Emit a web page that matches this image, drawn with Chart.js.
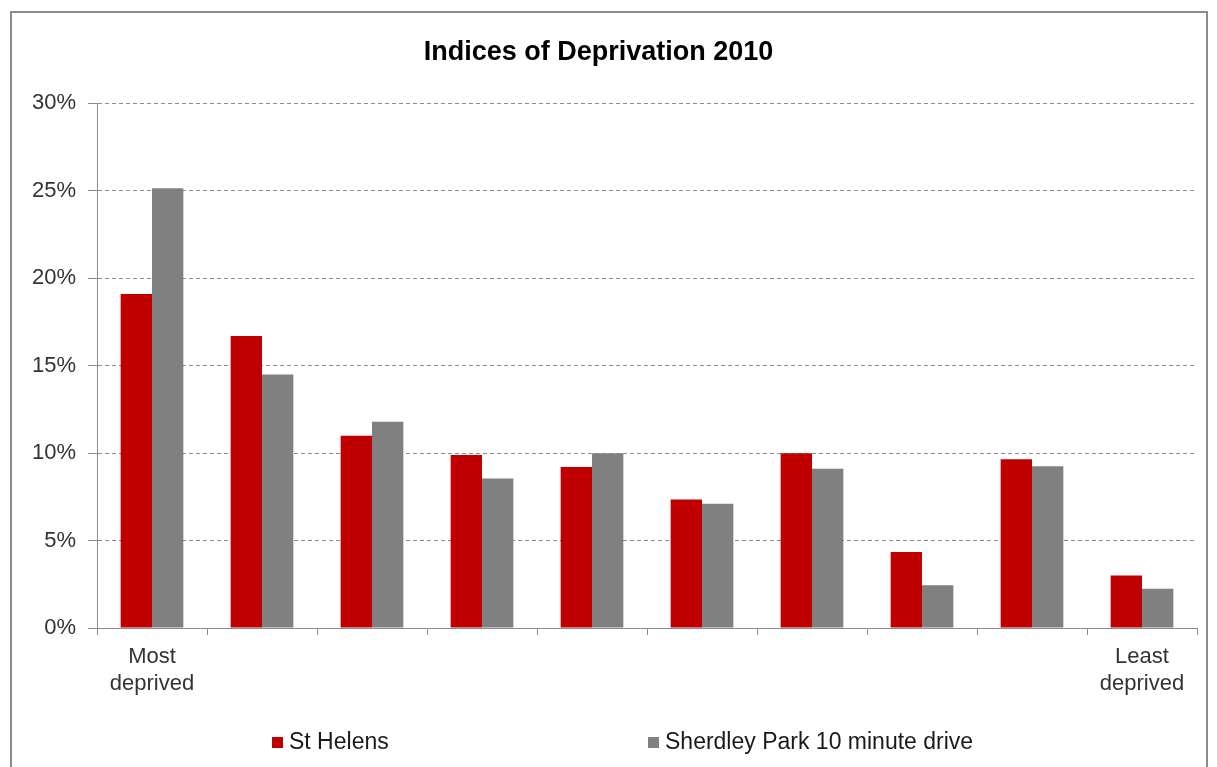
<!DOCTYPE html>
<html>
<head>
<meta charset="utf-8">
<script src="https://cdn.jsdelivr.net/npm/chart.js@4.4.1/dist/chart.umd.min.js"></script>
<style>
html, body { margin: 0; padding: 0; background: #fff; overflow: hidden; }
#wrap { position: absolute; left: 0; top: 0; width: 1217px; height: 767px; }
</style>
</head>
<body>
<div id="wrap"><canvas id="barChart" width="1217" height="767"></canvas></div>
<script>
// categories (deciles), only ends are labelled
var categories = [['Most', 'deprived'], '', '', '', '', '', '', '', '', ['Least', 'deprived']];
var stHelens = [19.1, 16.7, 11.0, 9.9, 9.2, 7.35, 10.0, 4.35, 9.65, 3.0];
var sherdley = [25.15, 14.5, 11.8, 8.55, 10.0, 7.1, 9.1, 2.45, 9.25, 2.25];
var seriesNames = ['St Helens', 'Sherdley Park 10 minute drive'];
var seriesColors = ['#c00000', '#808080'];

var FONT = '"Liberation Sans", Arial, sans-serif';

// frame + legend drawn by hand, Excel style
var framePlugin = {
	id: 'frame',
	beforeDraw: function(chart) {
		var c = chart.ctx;
		c.save();
		c.strokeStyle = '#8c8c8c';
		c.lineWidth = 2;
		c.strokeRect(11, 12, 1196, 800);
		c.restore();
	},
	afterDraw: function(chart) {
		var c = chart.ctx;
		var xs = [272, 648];
		c.save();
		c.font = '23px ' + FONT;
		c.textBaseline = 'middle';
		for (var i = 0; i < seriesNames.length; i++) {
			c.fillStyle = seriesColors[i];
			c.fillRect(xs[i], 737, 11, 11);
			c.fillStyle = '#1a1a1a';
			c.fillText(seriesNames[i], xs[i] + 17, 743);
		}
		c.restore();
	}
};

var ctx = document.getElementById('barChart').getContext('2d');
new Chart(ctx, {
	type: 'bar',
	data: {
		labels: categories,
		datasets: [
			{ label: seriesNames[0], data: stHelens, backgroundColor: seriesColors[0] },
			{ label: seriesNames[1], data: sherdley, backgroundColor: seriesColors[1] }
		]
	},
	options: {
		responsive: false,
		animation: false,
		devicePixelRatio: 1,
		categoryPercentage: 0.57,
		barPercentage: 1.0,
		layout: { padding: { left: 0, right: 20, top: 0, bottom: 59 } },
		plugins: {
			legend: { display: false },
			tooltip: { enabled: false },
			title: {
				display: true,
				text: 'Indices of Deprivation 2010',
				color: '#000',
				font: { family: FONT, size: 27, weight: 'bold', lineHeight: 1.2 },
				padding: { top: 36, bottom: 35 }
			}
		},
		scales: {
			x: {
				grid: { display: true, offset: true, drawOnChartArea: false, drawTicks: true, tickLength: 7, color: '#8c8c8c' },
				border: { color: '#8c8c8c', width: 1 },
				ticks: { color: '#333', font: { family: FONT, size: 22, lineHeight: 1.2 }, padding: 9, maxRotation: 0, autoSkip: false },
				afterFit: function(scale) { scale.height = 80; }
			},
			y: {
				min: 0,
				max: 30,
				ticks: {
					stepSize: 5,
					color: '#333',
					font: { family: FONT, size: 22 },
					padding: 12,
					callback: function(v) { return v + '%'; }
				},
				grid: { color: '#8c8c8c', tickLength: 9, drawTicks: true },
				border: { color: '#8c8c8c', width: 1, dash: [4, 3] },
				afterFit: function(scale) { scale.width = 97; }
			}
		}
	},
	plugins: [framePlugin]
});
</script>
</body>
</html>
